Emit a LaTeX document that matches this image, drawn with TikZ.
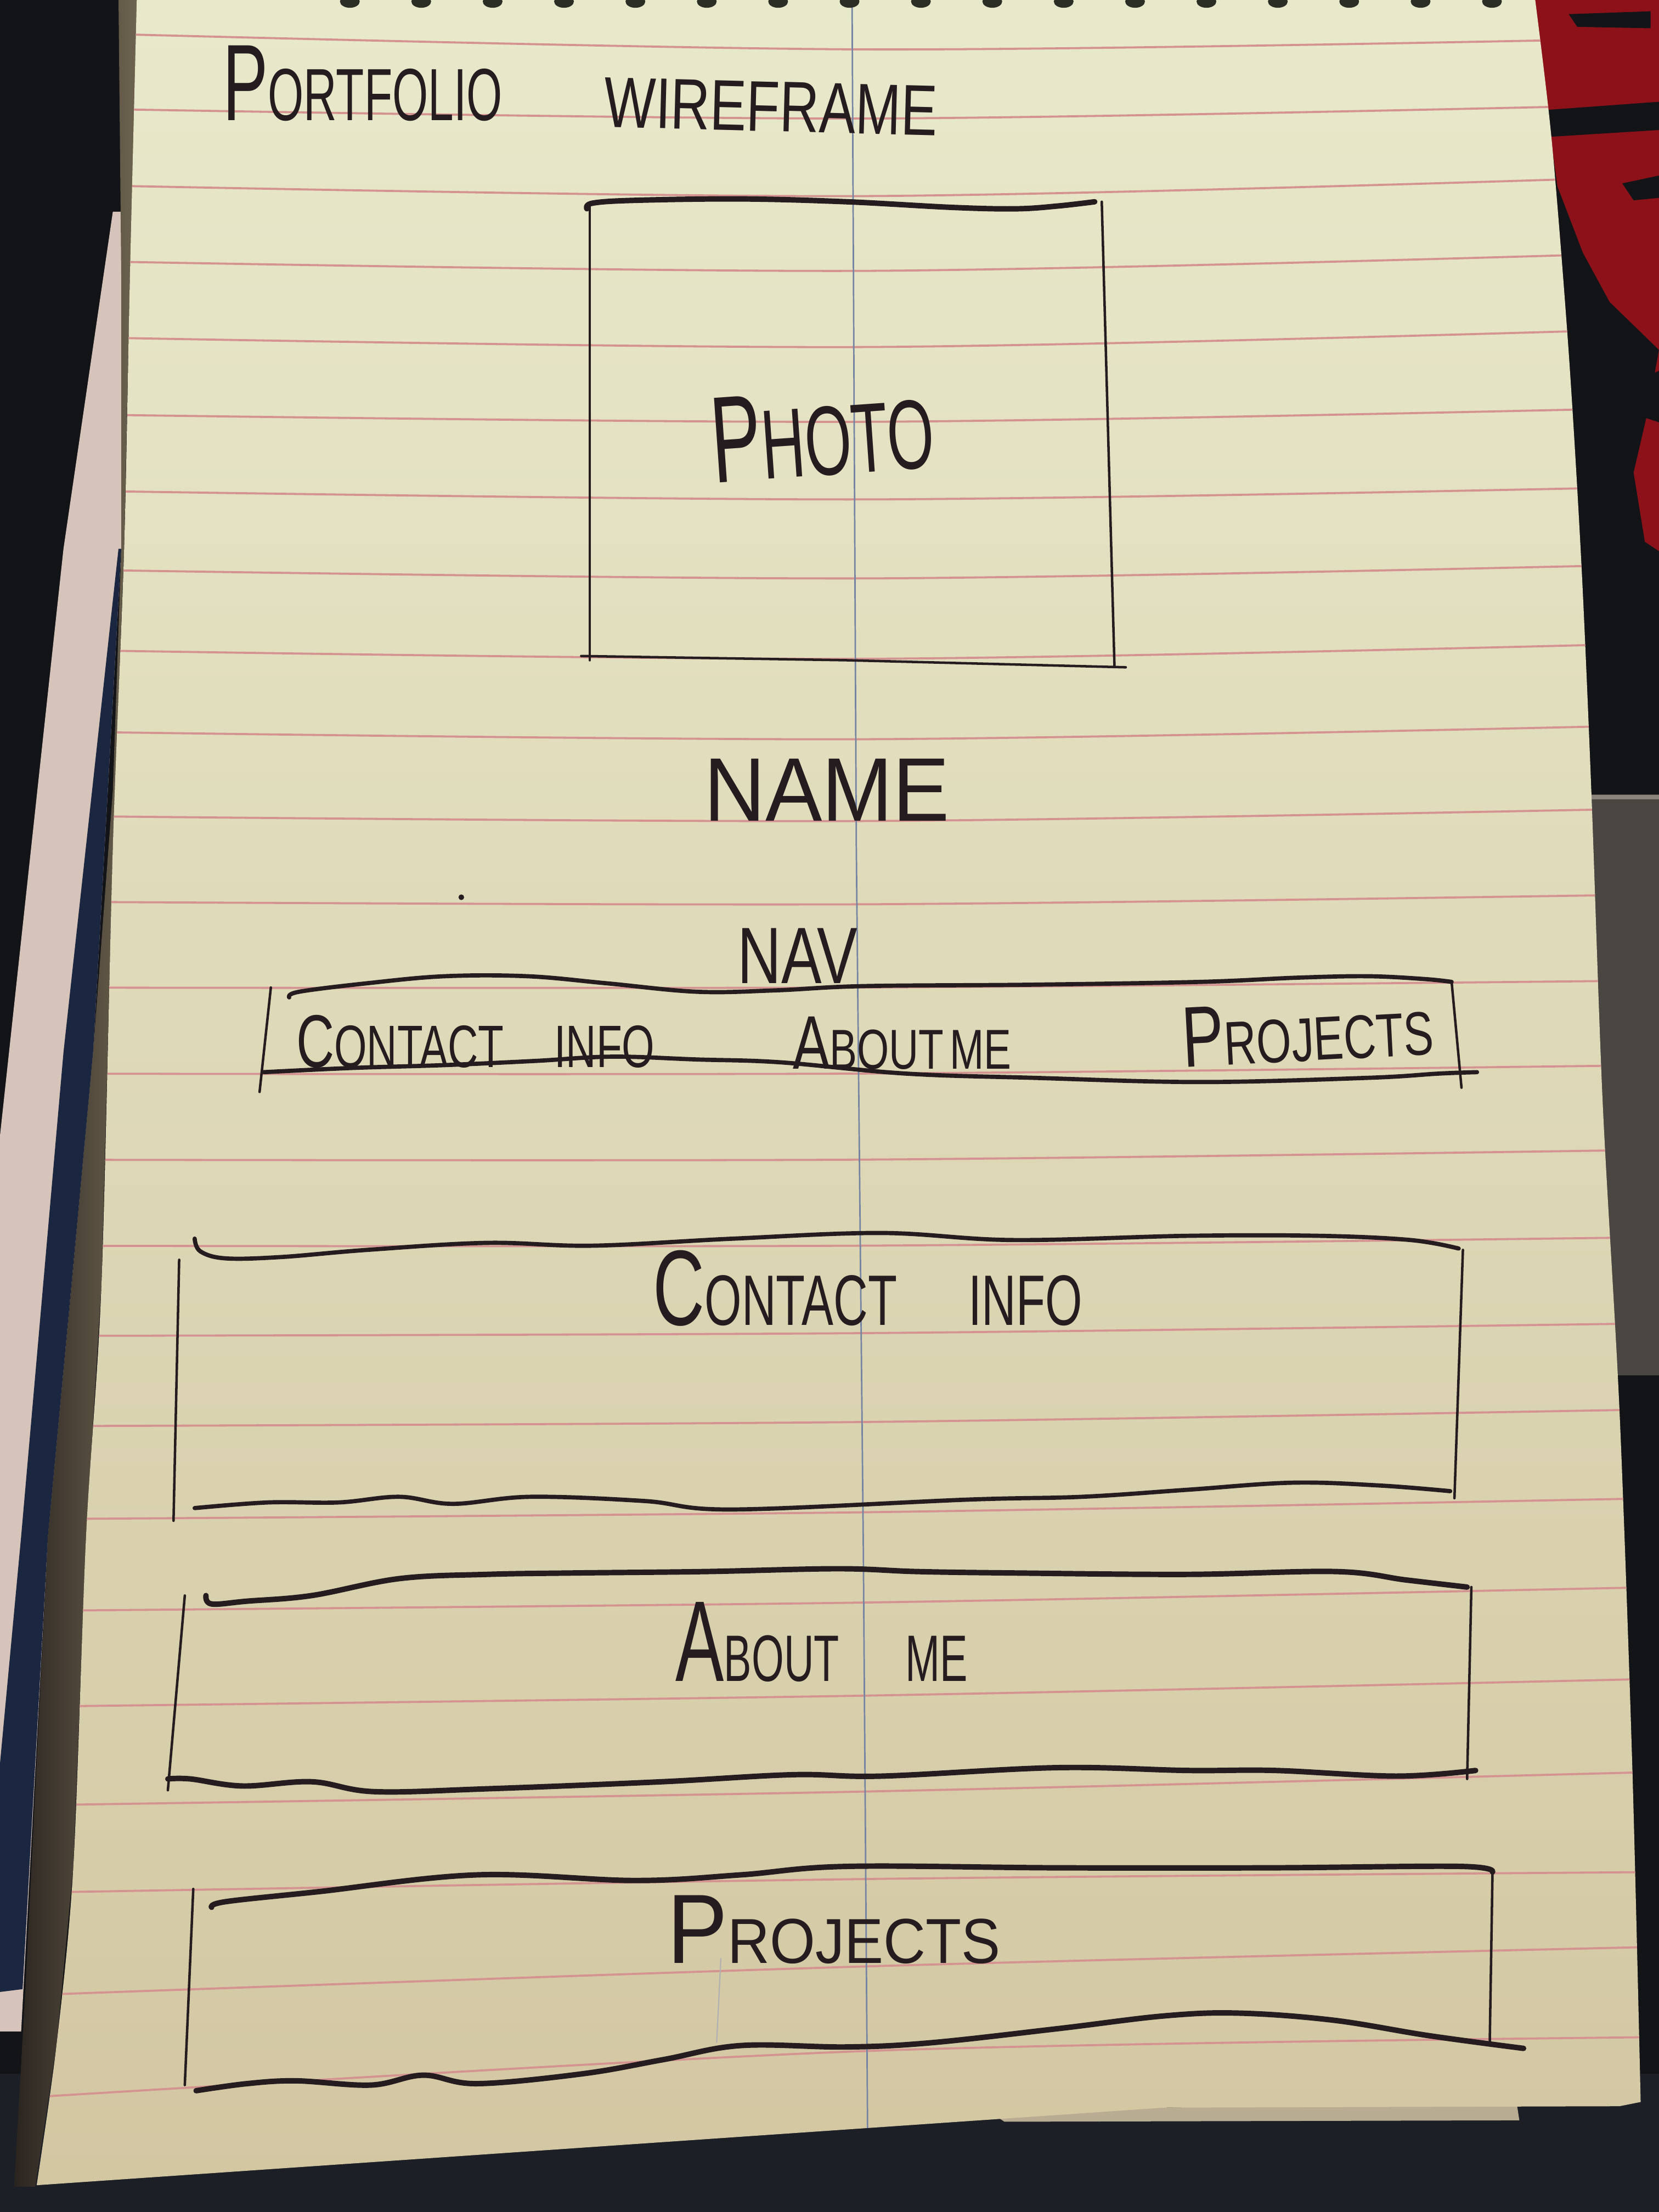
\documentclass[tikz,border=0pt]{standalone}
\usepackage{fontspec}
\usepackage{graphicx}
\newfontfamily\handfont{Liberation Sans}
% first letter of a word written larger, small-caps style
\newcommand{\capfirst}[2]{{\fontsize{#1}{#1}\selectfont #2}}
% block-capital lettering squeezed into a given width and height (cm)
\newcommand{\hand}[3]{\resizebox{#1cm}{#2cm}{\handfont\fontsize{10}{10}\selectfont #3}}

\definecolor{inkc}{HTML}{241C1E}
\definecolor{bgc}{HTML}{131417}
\definecolor{floorc}{HTML}{1C1F26}
\definecolor{greyfab}{HTML}{4A4642}
\definecolor{greyedge}{HTML}{8A847C}
\definecolor{redfab}{HTML}{8C1119}
\definecolor{sheetc}{HTML}{D6C3B9}
\definecolor{bluec}{HTML}{1B2740}
\definecolor{bandL}{HTML}{2A2420}
\definecolor{bandR}{HTML}{6E6450}
\definecolor{underc}{HTML}{B8AD93}
\definecolor{paperTop}{HTML}{E8E9CB}
\definecolor{paperMid}{HTML}{E1DFBD}
\definecolor{paperBot}{HTML}{D3C7A2}
\definecolor{rulec}{HTML}{D49290}
\definecolor{marginc}{HTML}{7484A2}
\definecolor{spiralc}{HTML}{2B2E24}

\begin{document}
\begin{tikzpicture}[x=0.01cm, y=-0.01cm,
  ink/.style={draw=inkc, line cap=round, line join=round},
  penheavy/.style={ink, line width=1.1pt},
  penmid/.style={ink, line width=0.85pt},
  penlight/.style={ink, line width=0.5pt},
  faint/.style={draw=inkc!35, line width=0.25pt},
  rule/.style={draw=rulec, line width=0.42pt},
  margin/.style={draw=marginc, line width=0.3pt},
  handtext/.style={inner sep=0pt, outer sep=0pt, text=inkc, anchor=south west},
]
\useasboundingbox (0,0) rectangle (1176,1568);

% ---------- surroundings ----------
\fill[bgc] (-2,-2) rectangle (1178,1570);
\fill[floorc] (-2,1470) rectangle (1178,1570);
\fill[greyfab] (1090,563) rectangle (1178,975);
\draw[greyedge, line width=0.8pt] (1110,565) -- (1178,565);

% red fabric, top right
\fill[redfab] (1085,-2) -- (1178,-2) -- (1178,392) -- (1166,384) -- (1158,335)
  -- (1168,292) -- (1176,248) -- (1141,214) -- (1122,179) -- (1104,132)
  -- (1094,60) -- cycle;
\fill[bgc] (1112,10) -- (1170,8) -- (1170,20) -- (1118,19) -- cycle;
\fill[bgc] (1095,78) -- (1178,72) -- (1178,92) -- (1098,97) -- cycle;
\fill[bgc] (1150,130) -- (1178,124) -- (1178,140) -- (1158,142) -- cycle;
\fill[bgc] (1160,270) -- (1178,262) -- (1178,300) -- (1166,296) -- cycle;

% pages and cover showing on the left
\fill[sheetc] (80,150) -- (88,150) -- (86,389) -- (66,746) -- (34,1089)
  -- (15,1440) -- (0,1440) -- (0,805) -- (45,389) -- cycle;
\fill[bluec] (84,389) -- (86,389) -- (66,746) -- (34,1089) -- (16,1410)
  -- (0,1412) -- (0,1250) -- (15,1089) -- (45,746) -- cycle;
\shade[left color=bandL, right color=bandR] (84,-2) -- (98,-2) -- (92,200)
  -- (88,389) -- (80,600) -- (72,909) -- (61,1089) -- (52,1323) -- (40,1450)
  -- (25,1550) -- (10,1550) -- (18,1410) -- (34,1089) -- (51,909) -- (66,746)
  -- (80,560) -- (86,389) -- (86,200) -- cycle;

% page lying underneath, bottom edge
\fill[underc] (700,1496) -- (1075,1490) -- (1077,1503) -- (712,1504) -- cycle;

% ---------- the ruled sheet ----------
\shade[top color=paperTop, middle color=paperMid, bottom color=paperBot]
  (97,-2) -- (1088,-2)
  -- plot[smooth, tension=0.5] coordinates {(1088,-2) (1100,100) (1112,250)
     (1121,400) (1128,560) (1136,780) (1148,1000) (1157,1250) (1163,1490)}
  -- (1148,1493) -- (825,1494) -- (26,1549)
  -- plot[smooth, tension=0.5] coordinates {(26,1549) (40,1450) (52,1323)
     (61,1089) (72,909) (80,600) (88,389) (92,200) (97,-2)}
  -- cycle;

\begin{scope}
  \clip (97,-2) -- (1088,-2)
  -- plot[smooth, tension=0.5] coordinates {(1088,-2) (1100,100) (1112,250)
     (1121,400) (1128,560) (1136,780) (1148,1000) (1157,1250) (1163,1490)}
  -- (1148,1493) -- (825,1494) -- (26,1549)
  -- plot[smooth, tension=0.5] coordinates {(26,1549) (40,1450) (52,1323)
     (61,1089) (72,909) (80,600) (88,389) (92,200) (97,-2)}
  -- cycle;
  \foreach \a/\b/\c in {22/35/27, 76/84/74, 130/139/125, 184/192/179,
      238/246/233, 293/299/289, 347/354/345, 403/410/400, 460/467/456,
      518/524/514, 578/582/573, 639/641/634, 700/700/695, 761/761/755,
      822/822/815, 883/883/877, 947/945/938, 1011/1008/999, 1077/1072/1062,
      1142/1136/1125, 1210/1202/1190, 1280/1270/1256, 1342/1332/1327,
      1415/1394/1380, 1488/1454/1444}
    \draw[rule] plot[smooth] coordinates {(0,\a) (610,\b) (1176,\c)};
  \draw[margin] (604,-2) -- (607,600) -- (612,1100) -- (615,1510);
\end{scope}

% spiral binding at the top edge
\foreach \i in {0,...,16}
  \fill[spiralc] ({248+50.6*\i},1) ellipse [x radius=0.07cm, y radius=0.045cm];

% ---------- sketch ----------
% photo frame
\draw[penheavy] plot[smooth, tension=0.6] coordinates {(416,148) (420,144)
  (450,142) (525,141) (600,143) (675,147) (720,148) (750,146) (776,143)};
\draw[penlight] (418,146) -- (418,468);
\draw[penlight] (781,143) -- (790,472);
\draw[penlight] (412,465) -- (600,468) -- (798,473);

% navigation bar
\draw[penmid] plot[smooth, tension=0.6] coordinates {(205,707) (212,703)
  (260,697) (315,692) (374,692) (430,697) (494,703) (550,702) (612,699)
  (731,698) (851,696) (920,693) (970,692) (1010,694) (1029,696)};
\draw[penlight] (192,700) -- (184,774);
\draw[penlight] (1029,696) -- (1036,771);
\draw[penmid] plot[smooth, tension=0.6] coordinates {(187,760) (250,757)
  (315,755) (380,752) (434,749) (494,751) (553,753) (642,761) (732,764)
  (851,767) (970,764) (1020,761) (1047,760)};

% contact info section
\draw[penmid] plot[smooth, tension=0.6] coordinates {(138,878) (142,887)
  (160,892) (200,891) (260,886) (345,881) (420,883) (520,878) (625,874)
  (718,879) (842,876) (935,876) (1000,879) (1034,885)};
\draw[penlight] (127,893) -- (123,1078);
\draw[penlight] (1037,886) -- (1031,1062);
\draw[penmid] plot[smooth, tension=0.6] coordinates {(138,1069) (190,1065)
  (240,1065) (283,1061) (321,1066) (376,1061) (457,1064) (519,1070)
  (686,1063) (767,1061) (842,1056) (916,1051) (978,1053) (1028,1057)};

% about me section
\draw[penheavy] plot[smooth, tension=0.6] coordinates {(146,1131) (150,1137)
  (175,1135) (221,1131) (283,1119) (345,1116) (407,1115) (500,1114)
  (594,1112) (650,1114) (718,1115) (842,1116) (947,1114) (997,1120) (1040,1125)};
\draw[penlight] (131,1131) -- (119,1269);
\draw[penlight] (1043,1125) -- (1040,1261);
\draw[penheavy] plot[smooth, tension=0.6] coordinates {(119,1261) (135,1261)
  (172,1266) (221,1263) (265,1270) (345,1268) (469,1263) (562,1258)
  (625,1259) (749,1253) (842,1255) (904,1255) (990,1259) (1046,1255)};

% projects section
\draw[penheavy] plot[smooth, tension=0.6] coordinates {(150,1352) (160,1348)
  (225,1341) (338,1329) (450,1333) (525,1329) (600,1323) (750,1324)
  (900,1324) (1035,1323) (1058,1327)};
\draw[penlight] (137,1339) -- (131,1478);
\draw[penlight] (1058,1326) -- (1056,1449);
\draw[penheavy] plot[smooth, tension=0.6] coordinates {(139,1482) (175,1477)
  (210,1475) (263,1478) (300,1471) (338,1477) (413,1470) (470,1460)
  (525,1450) (600,1451) (660,1448) (750,1438) (825,1429) (878,1427)
  (945,1432) (1013,1443) (1080,1452)};

% stray pencil marks
\fill[inkc] (327,636) circle [radius=0.02cm];
\draw[faint] (511,1388) -- (508,1448);

% ---------- lettering ----------
\node[handtext] (titleA) at (158,86) {\hand{1.98}{0.53}{\capfirst{14.7}{P}ORTFOLIO}};
\node[handtext, rotate=-1.5] (titleB) at (428,90) {\hand{2.36}{0.35}{WIREFRAME}};
\node[handtext, rotate=4] (photoLbl) at (506,343) {\hand{1.58}{0.60}{\capfirst{12.5}{P}HOTO}};
\node[handtext] (nameLbl) at (499,582) {\hand{1.74}{0.44}{NAME}};
\node[handtext] (navLbl) at (523,697) {\hand{0.85}{0.39}{NAV}};
\node[handtext] (navContact) at (210,757) {\hand{2.54}{0.37}{\capfirst{12.5}{C}ONTACT\hspace{1.2em}INFO}};
\node[handtext] (navAbout) at (562,758) {\hand{1.55}{0.37}{\capfirst{13.5}{A}BOUT\hspace{0.15em}ME}};
\node[handtext, rotate=3] (navProjects) at (839,757) {\hand{1.78}{0.42}{\capfirst{14}{P}ROJECTS}};
\node[handtext] (contactLbl) at (463,940) {\hand{3.04}{0.53}{\capfirst{15}{C}ONTACT\hspace{1.5em}INFO}};
\node[handtext] (aboutLbl) at (479,1192) {\hand{2.07}{0.56}{\capfirst{17.5}{A}BOUT\hspace{1.6em}ME}};
\node[handtext] (projectsLbl) at (473,1392) {\hand{2.36}{0.48}{\capfirst{15.5}{P}ROJECTS}};
\end{tikzpicture}
\end{document}
